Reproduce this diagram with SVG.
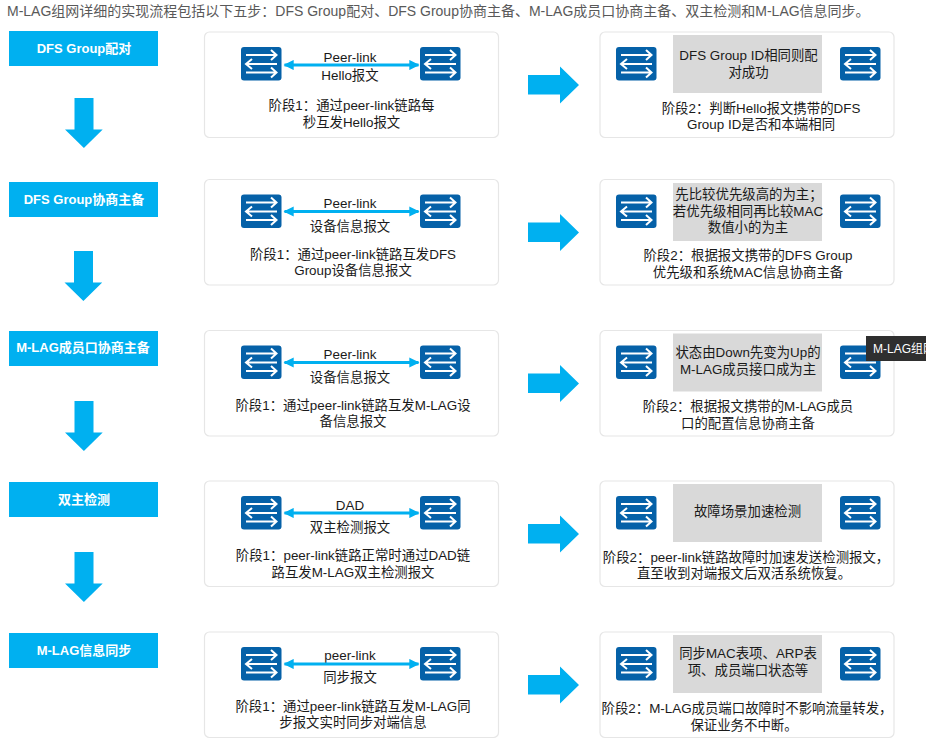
<svg xmlns="http://www.w3.org/2000/svg" width="926" height="744" viewBox="0 0 926 744">
<style>
text{font-family:"Liberation Sans","Noto Sans CJK SC",sans-serif;font-size:13.400px;fill:#1a1a1a;text-anchor:middle}
.intro{font-size:14px;fill:#595959;text-anchor:start}
.step{fill:#00b0f0}
.lbl{fill:#fff;font-weight:bold;font-size:13px}
.card{fill:#fff;stroke:#e6e6e6;stroke-width:1.2}
.grey{fill:#d9d9d9}
.link{stroke:#00b0f0;stroke-width:3;fill:none;marker-start:url(#h);marker-end:url(#h)}
.flow{fill:#00b0f0}
.tip{text-anchor:start;fill:#fff;font-size:12px}
</style>
<defs>
<marker id="h" viewBox="0 0 10 10" refX="9" refY="5" markerWidth="3.400" markerHeight="3.400" orient="auto-start-reverse"><path d="M0 0L10 5L0 10Z" fill="#00b0f0"/></marker>
<g id="sw">
<rect width="40.500" height="33.500" rx="3" fill="#0561a8"/>
<path d="M5 8H35M30 3L35.500 8L30 13M36 17H5.500M11 12L5 17L11 22M5 25.500H35M30 20.500L35.500 25.500L30 30.500" fill="none" stroke="#fff" stroke-width="2"/>
</g>
<path id="down" d="M9.500 0H28.500V31.500H37.700L18.900 50L0 31.500H9.500Z"/>
<path id="right" d="M0 8.500H32V0L51 18.500L32 37V28H0Z"/>
</defs>
<text class="intro" x="7" y="16">M-LAG组网详细的实现流程包括以下五步：DFS Group配对、DFS Group协商主备、M-LAG成员口协商主备、双主检测和M-LAG信息同步。</text>

<g id="step1"><rect class="step" x="9" y="31" width="149" height="35"/><text class="lbl" x="84" y="53">DFS Group配对</text></g>
<g id="step2"><rect class="step" x="9" y="182" width="149" height="35"/><text class="lbl" x="84" y="204">DFS Group协商主备</text></g>
<g id="step3"><rect class="step" x="9" y="331" width="149" height="35"/><text class="lbl" x="83" y="352">M-LAG成员口协商主备</text></g>
<g id="step4"><rect class="step" x="9" y="482" width="149" height="35"/><text class="lbl" x="84" y="504">双主检测</text></g>
<g id="step5"><rect class="step" x="9" y="633" width="149" height="35"/><text class="lbl" x="84" y="655">M-LAG信息同步</text></g>

<g id="s1a"><rect class="card" x="204.500" y="32" width="294" height="105.500" rx="5"/><use href="#sw" x="241" y="47"/><use href="#sw" x="420" y="47"/>
<text x="350" y="62">Peer-link</text><text x="350" y="80">Hello报文</text>
<text x="351.500" y="110">阶段1：通过peer-link链路每</text><text x="351.500" y="127">秒互发Hello报文</text></g>
<g id="s1b"><rect class="card" x="600" y="32" width="294" height="105.500" rx="5"/><rect class="grey" x="673" y="35" width="149" height="58"/><use href="#sw" x="616" y="47"/><use href="#sw" x="840" y="47"/>
<text x="748.500" y="60">DFS Group ID相同则配</text><text x="748.500" y="77">对成功</text>
<text x="761" y="113">阶段2：判断Hello报文携带的DFS</text><text x="761" y="129">Group ID是否和本端相同</text></g>

<g id="s2a"><rect class="card" x="204.500" y="179.500" width="294" height="105.500" rx="5"/><use href="#sw" x="241" y="194.500"/><use href="#sw" x="420" y="194.500"/>
<text x="350" y="208">Peer-link</text><text x="350" y="231">设备信息报文</text>
<text x="353" y="259">阶段1：通过peer-link链路互发DFS</text><text x="353" y="275">Group设备信息报文</text></g>
<g id="s2b"><rect class="card" x="600" y="179.500" width="294" height="105.500" rx="5"/><rect class="grey" x="673" y="183" width="149" height="58"/><use href="#sw" x="616" y="194.500"/><use href="#sw" x="840" y="194.500"/>
<text x="749" y="199">先比较优先级高的为主；</text><text x="748" y="216">若优先级相同再比较MAC</text><text x="748" y="232">数值小的为主</text>
<text x="748" y="260">阶段2：根据报文携带的DFS Group</text><text x="748" y="277">优先级和系统MAC信息协商主备</text></g>

<g id="s3a"><rect class="card" x="204.500" y="330.500" width="294" height="105.500" rx="5"/><use href="#sw" x="241" y="345.500"/><use href="#sw" x="420" y="345.500"/>
<text x="350" y="359">Peer-link</text><text x="350" y="382">设备信息报文</text>
<text x="353" y="410">阶段1：通过peer-link链路互发M-LAG设</text><text x="353" y="426">备信息报文</text></g>
<g id="s3b"><rect class="card" x="600" y="330.500" width="294" height="105.500" rx="5"/><rect class="grey" x="673" y="333.500" width="149" height="58"/><use href="#sw" x="616" y="345.500"/><use href="#sw" x="840" y="345.500"/>
<text x="748" y="357">状态由Down先变为Up的</text><text x="748" y="374">M-LAG成员接口成为主</text>
<text x="748" y="411">阶段2：根据报文携带的M-LAG成员</text><text x="748" y="428">口的配置信息协商主备</text></g>

<g id="s4a"><rect class="card" x="204.500" y="481" width="294" height="105.500" rx="5"/><use href="#sw" x="241" y="496"/><use href="#sw" x="420" y="496"/>
<text x="350" y="510">DAD</text><text x="350" y="532">双主检测报文</text>
<text x="353" y="560">阶段1：peer-link链路正常时通过DAD链</text><text x="353" y="577">路互发M-LAG双主检测报文</text></g>
<g id="s4b"><rect class="card" x="600" y="481" width="294" height="105.500" rx="5"/><rect class="grey" x="673" y="484" width="149" height="58"/><use href="#sw" x="616" y="496"/><use href="#sw" x="840" y="496"/>
<text x="747.500" y="516">故障场景加速检测</text>
<text x="746" y="562">阶段2：peer-link链路故障时加速发送检测报文，</text><text x="744" y="578">直至收到对端报文后双活系统恢复。</text></g>

<g id="s5a"><rect class="card" x="204.500" y="632" width="294" height="105.500" rx="5"/><use href="#sw" x="241" y="647"/><use href="#sw" x="420" y="647"/>
<text x="350" y="660">peer-link</text><text x="350" y="682">同步报文</text>
<text x="353" y="711">阶段1：通过peer-link链路互发M-LAG同</text><text x="353" y="727">步报文实时同步对端信息</text></g>
<g id="s5b"><rect class="card" x="600" y="632" width="294" height="105.500" rx="5"/><rect class="grey" x="673" y="635" width="149" height="58"/><use href="#sw" x="616" y="647"/><use href="#sw" x="840" y="647"/>
<text x="748" y="658">同步MAC表项、ARP表</text><text x="748" y="675">项、成员端口状态等</text>
<text x="747" y="713">阶段2：M-LAG成员端口故障时不影响流量转发，</text><text x="744" y="730">保证业务不中断。</text></g>

<g id="connectors">
<use href="#down" class="flow" x="65" y="98"/>
<use href="#down" class="flow" x="64.500" y="251"/>
<use href="#down" class="flow" x="65" y="401"/>
<use href="#down" class="flow" x="65" y="552"/>
<use href="#right" class="flow" x="528" y="66.500"/>
<use href="#right" class="flow" x="528" y="214"/>
<use href="#right" class="flow" x="528" y="365"/>
<use href="#right" class="flow" x="528" y="515.500"/>
<use href="#right" class="flow" x="528" y="666.500"/>
<path class="link" d="M284.500 65H418.500"/>
<path class="link" d="M284.500 211.500H418.500"/>
<path class="link" d="M284.500 362.500H418.500"/>
<path class="link" d="M284.500 513H418.500"/>
<path class="link" d="M284.500 664H418.500"/>
</g>

<g id="tooltip"><rect x="866" y="336" width="60" height="25" fill="#2f2f2f"/><text class="tip" x="873" y="353">M-LAG组网</text></g>
</svg>
